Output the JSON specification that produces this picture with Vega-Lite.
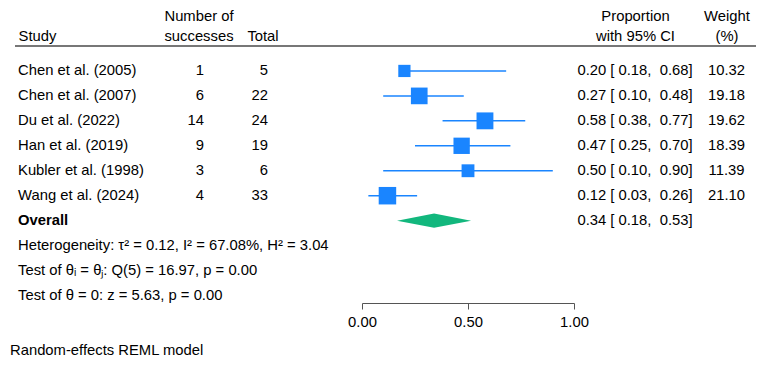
{
  "$schema": "https://vega.github.io/schema/vega-lite/v6.json",
  "padding": {"left": 10, "top": 8, "right": 9, "bottom": 8},
  "background": "white",
  "title": {"text": "Random-effects REML model", "orient": "bottom", "anchor": "start", "fontSize": 14.8, "fontWeight": "normal", "font": "Liberation Sans", "color": "#000", "offset": 14, "dx": -4},
  "datasets": {
    "rows": [
      {"label": "header", "kind": "header"},
      {"label": "Chen et al. (2005)", "kind": "study", "successes": 1, "total": 5, "es": 0.20, "lo": 0.18, "hi": 0.68, "ci": "0.20 [ 0.18,\u00a0 0.68]", "weight": 10.32},
      {"label": "Chen et al. (2007)", "kind": "study", "successes": 6, "total": 22, "es": 0.27, "lo": 0.10, "hi": 0.48, "ci": "0.27 [ 0.10,\u00a0 0.48]", "weight": 19.18},
      {"label": "Du et al. (2022)", "kind": "study", "successes": 14, "total": 24, "es": 0.58, "lo": 0.38, "hi": 0.77, "ci": "0.58 [ 0.38,\u00a0 0.77]", "weight": 19.62},
      {"label": "Han et al. (2019)", "kind": "study", "successes": 9, "total": 19, "es": 0.47, "lo": 0.25, "hi": 0.70, "ci": "0.47 [ 0.25,\u00a0 0.70]", "weight": 18.39},
      {"label": "Kubler et al. (1998)", "kind": "study", "successes": 3, "total": 6, "es": 0.50, "lo": 0.10, "hi": 0.90, "ci": "0.50 [ 0.10,\u00a0 0.90]", "weight": 11.39},
      {"label": "Wang et al. (2024)", "kind": "study", "successes": 4, "total": 33, "es": 0.12, "lo": 0.03, "hi": 0.26, "ci": "0.12 [ 0.03,\u00a0 0.26]", "weight": 21.10},
      {"label": "Overall", "kind": "overall", "es": 0.34, "lo": 0.18, "hi": 0.53, "ci": "0.34 [ 0.18,\u00a0 0.53]"},
      {"label": "Heterogeneity: τ² = 0.12, I² = 67.08%, H² = 3.04", "kind": "note"},
      {"label": "Test of θᵢ = θⱼ: Q(5) = 16.97, p = 0.00", "kind": "note"},
      {"label": "Test of θ = 0: z = 5.63, p = 0.00", "kind": "note"}
    ]
  },
  "data": {"name": "rows"},
  "spacing": 0,
  "bounds": "flush",
  "hconcat": [
    {
      "width": 155,
      "height": 260,
      "layer": [
        {
          "transform": [{"filter": "datum.kind == 'header'"}],
          "mark": {"type": "rule", "color": "#777777", "strokeWidth": 2},
          "encoding": {
            "y": {"field": "label", "type": "nominal", "sort": null, "scale": {"type": "point", "domain": ["header", "Chen et al. (2005)", "Chen et al. (2007)", "Du et al. (2022)", "Han et al. (2019)", "Kubler et al. (1998)", "Wang et al. (2024)", "Overall", "Heterogeneity: τ² = 0.12, I² = 67.08%, H² = 3.04", "Test of θᵢ = θⱼ: Q(5) = 16.97, p = 0.00", "Test of θ = 0: z = 5.63, p = 0.00"], "padding": 0.2104, "align": 0.2857}, "axis": null}
          }
        },
        {
          "transform": [{"filter": "datum.kind == 'study' || datum.kind == 'note'"}],
          "mark": {"type": "text", "align": "left", "baseline": "middle"},
          "encoding": {
            "x": {"datum": "Study", "type": "nominal", "scale": {"type": "point", "domain": ["Study"], "padding": 0.5, "align": 0.0194}, "axis": {"orient": "top", "title": null, "domain": false, "ticks": true, "tickSize": 0, "labelPadding": 19.5, "labelBaseline": "bottom", "labelLineHeight": 20, "labelAlign": "left", "labelExpr": "['\u00a0', datum.value]"}},
            "y": {"field": "label", "type": "nominal", "sort": null, "scale": {"type": "point", "domain": ["header", "Chen et al. (2005)", "Chen et al. (2007)", "Du et al. (2022)", "Han et al. (2019)", "Kubler et al. (1998)", "Wang et al. (2024)", "Overall", "Heterogeneity: τ² = 0.12, I² = 67.08%, H² = 3.04", "Test of θᵢ = θⱼ: Q(5) = 16.97, p = 0.00", "Test of θ = 0: z = 5.63, p = 0.00"], "padding": 0.2104, "align": 0.2857}, "axis": null},
            "text": {"field": "label", "type": "nominal"}
          }
        },
        {
          "transform": [{"filter": "datum.kind == 'overall'"}],
          "mark": {"type": "text", "align": "left", "baseline": "middle", "fontWeight": "bold"},
          "encoding": {
            "x": {"datum": "Study", "type": "nominal", "scale": {"type": "point", "domain": ["Study"], "padding": 0.5, "align": 0.0194}, "axis": {"orient": "top", "title": null, "domain": false, "ticks": true, "tickSize": 0, "labelPadding": 19.5, "labelBaseline": "bottom", "labelLineHeight": 20, "labelAlign": "left", "labelExpr": "['\u00a0', datum.value]"}},
            "y": {"field": "label", "type": "nominal", "sort": null, "scale": {"type": "point", "domain": ["header", "Chen et al. (2005)", "Chen et al. (2007)", "Du et al. (2022)", "Han et al. (2019)", "Kubler et al. (1998)", "Wang et al. (2024)", "Overall", "Heterogeneity: τ² = 0.12, I² = 67.08%, H² = 3.04", "Test of θᵢ = θⱼ: Q(5) = 16.97, p = 0.00", "Test of θ = 0: z = 5.63, p = 0.00"], "padding": 0.2104, "align": 0.2857}, "axis": null},
            "text": {"field": "label", "type": "nominal"}
          }
        }
      ]
    },
    {
      "width": 192,
      "height": 260,
      "layer": [
        {
          "transform": [{"filter": "datum.kind == 'header'"}],
          "mark": {"type": "rule", "color": "#777777", "strokeWidth": 2},
          "encoding": {
            "y": {"field": "label", "type": "nominal", "sort": null, "scale": {"type": "point", "domain": ["header", "Chen et al. (2005)", "Chen et al. (2007)", "Du et al. (2022)", "Han et al. (2019)", "Kubler et al. (1998)", "Wang et al. (2024)", "Overall", "Heterogeneity: τ² = 0.12, I² = 67.08%, H² = 3.04", "Test of θᵢ = θⱼ: Q(5) = 16.97, p = 0.00", "Test of θ = 0: z = 5.63, p = 0.00"], "padding": 0.2104, "align": 0.2857}, "axis": null}
          }
        },
        {
          "transform": [{"filter": "datum.kind == 'study'"}],
          "mark": {"type": "text", "align": "right", "baseline": "middle", "dx": 5.5},
          "encoding": {
            "x": {"datum": "successes", "type": "nominal", "scale": {"type": "point", "domain": ["successes", "Total"], "padding": 1, "align": 0.2227}, "axis": {"orient": "top", "title": null, "domain": false, "ticks": true, "tickSize": 0, "labelPadding": 19.5, "labelBaseline": "bottom", "labelLineHeight": 20, "labelExpr": "datum.value == 'successes' ? ['Number of', 'successes'] : ['\u00a0', datum.value]"}},
            "y": {"field": "label", "type": "nominal", "sort": null, "scale": {"type": "point", "domain": ["header", "Chen et al. (2005)", "Chen et al. (2007)", "Du et al. (2022)", "Han et al. (2019)", "Kubler et al. (1998)", "Wang et al. (2024)", "Overall", "Heterogeneity: τ² = 0.12, I² = 67.08%, H² = 3.04", "Test of θᵢ = θⱼ: Q(5) = 16.97, p = 0.00", "Test of θ = 0: z = 5.63, p = 0.00"], "padding": 0.2104, "align": 0.2857}, "axis": null},
            "text": {"field": "successes", "type": "quantitative", "format": "d"}
          }
        },
        {
          "transform": [{"filter": "datum.kind == 'study'"}],
          "mark": {"type": "text", "align": "right", "baseline": "middle", "dx": 5.5},
          "encoding": {
            "x": {"datum": "Total", "type": "nominal", "scale": {"type": "point", "domain": ["successes", "Total"], "padding": 1, "align": 0.2227}, "axis": {"orient": "top", "title": null, "domain": false, "ticks": true, "tickSize": 0, "labelPadding": 19.5, "labelBaseline": "bottom", "labelLineHeight": 20, "labelExpr": "datum.value == 'successes' ? ['Number of', 'successes'] : ['\u00a0', datum.value]"}},
            "y": {"field": "label", "type": "nominal", "sort": null, "scale": {"type": "point", "domain": ["header", "Chen et al. (2005)", "Chen et al. (2007)", "Du et al. (2022)", "Han et al. (2019)", "Kubler et al. (1998)", "Wang et al. (2024)", "Overall", "Heterogeneity: τ² = 0.12, I² = 67.08%, H² = 3.04", "Test of θᵢ = θⱼ: Q(5) = 16.97, p = 0.00", "Test of θ = 0: z = 5.63, p = 0.00"], "padding": 0.2104, "align": 0.2857}, "axis": null},
            "text": {"field": "total", "type": "quantitative", "format": "d"}
          }
        }
      ]
    },
    {
      "width": 212,
      "height": 260,
      "layer": [
        {
          "transform": [{"filter": "datum.kind == 'header'"}],
          "mark": {"type": "rule", "color": "#777777", "strokeWidth": 2},
          "encoding": {
            "y": {"field": "label", "type": "nominal", "sort": null, "scale": {"type": "point", "domain": ["header", "Chen et al. (2005)", "Chen et al. (2007)", "Du et al. (2022)", "Han et al. (2019)", "Kubler et al. (1998)", "Wang et al. (2024)", "Overall", "Heterogeneity: τ² = 0.12, I² = 67.08%, H² = 3.04", "Test of θᵢ = θⱼ: Q(5) = 16.97, p = 0.00", "Test of θ = 0: z = 5.63, p = 0.00"], "padding": 0.2104, "align": 0.2857}, "axis": null}
          }
        },
        {
          "transform": [{"filter": "datum.kind == 'study'"}],
          "mark": {"type": "rule", "color": "#1a85ff", "strokeWidth": 1.5},
          "encoding": {
            "x": {"field": "lo", "type": "quantitative", "scale": {"domain": [0, 1], "nice": false, "zero": false}, "axis": {"orient": "bottom", "title": null, "values": [0, 0.5, 1], "format": ".2f", "labelFlush": false, "tickSize": 6, "labelPadding": 5, "domainColor": "#555", "domainWidth": 1, "tickColor": "#555", "tickWidth": 1}},
            "x2": {"field": "hi"},
            "y": {"field": "label", "type": "nominal", "sort": null, "scale": {"type": "point", "domain": ["header", "Chen et al. (2005)", "Chen et al. (2007)", "Du et al. (2022)", "Han et al. (2019)", "Kubler et al. (1998)", "Wang et al. (2024)", "Overall", "Heterogeneity: τ² = 0.12, I² = 67.08%, H² = 3.04", "Test of θᵢ = θⱼ: Q(5) = 16.97, p = 0.00", "Test of θ = 0: z = 5.63, p = 0.00"], "padding": 0.2104, "align": 0.2857}, "axis": null}
          }
        },
        {
          "transform": [{"filter": "datum.kind == 'study'"}],
          "mark": {"type": "point", "shape": "square", "filled": true, "opacity": 1, "color": "#1a85ff"},
          "encoding": {
            "x": {"field": "es", "type": "quantitative", "scale": {"domain": [0, 1], "nice": false, "zero": false}, "axis": {"orient": "bottom", "title": null, "values": [0, 0.5, 1], "format": ".2f", "labelFlush": false, "tickSize": 6, "labelPadding": 5, "domainColor": "#555", "domainWidth": 1, "tickColor": "#555", "tickWidth": 1}},
            "y": {"field": "label", "type": "nominal", "sort": null, "scale": {"type": "point", "domain": ["header", "Chen et al. (2005)", "Chen et al. (2007)", "Du et al. (2022)", "Han et al. (2019)", "Kubler et al. (1998)", "Wang et al. (2024)", "Overall", "Heterogeneity: τ² = 0.12, I² = 67.08%, H² = 3.04", "Test of θᵢ = θⱼ: Q(5) = 16.97, p = 0.00", "Test of θ = 0: z = 5.63, p = 0.00"], "padding": 0.2104, "align": 0.2857}, "axis": null},
            "size": {"field": "weight", "type": "quantitative", "scale": {"domain": [0, 20], "range": [0, 290]}, "legend": null}
          }
        },
        {
          "transform": [{"filter": "datum.kind == 'overall'"}],
          "mark": {"type": "point", "shape": "M-1,0L0,-0.19L1,0L0,0.19Z", "size": 5476, "filled": true, "opacity": 1, "color": "#12b77d", "strokeWidth": 0},
          "encoding": {
            "x": {"field": "es", "type": "quantitative", "scale": {"domain": [0, 1], "nice": false, "zero": false}, "axis": {"orient": "bottom", "title": null, "values": [0, 0.5, 1], "format": ".2f", "labelFlush": false, "tickSize": 6, "labelPadding": 5, "domainColor": "#555", "domainWidth": 1, "tickColor": "#555", "tickWidth": 1}},
            "y": {"field": "label", "type": "nominal", "sort": null, "scale": {"type": "point", "domain": ["header", "Chen et al. (2005)", "Chen et al. (2007)", "Du et al. (2022)", "Han et al. (2019)", "Kubler et al. (1998)", "Wang et al. (2024)", "Overall", "Heterogeneity: τ² = 0.12, I² = 67.08%, H² = 3.04", "Test of θᵢ = θⱼ: Q(5) = 16.97, p = 0.00", "Test of θ = 0: z = 5.63, p = 0.00"], "padding": 0.2104, "align": 0.2857}, "axis": null}
          }
        }
      ]
    },
    {
      "width": 182,
      "height": 260,
      "layer": [
        {
          "transform": [{"filter": "datum.kind == 'header'"}],
          "mark": {"type": "rule", "color": "#777777", "strokeWidth": 2},
          "encoding": {
            "y": {"field": "label", "type": "nominal", "sort": null, "scale": {"type": "point", "domain": ["header", "Chen et al. (2005)", "Chen et al. (2007)", "Du et al. (2022)", "Han et al. (2019)", "Kubler et al. (1998)", "Wang et al. (2024)", "Overall", "Heterogeneity: τ² = 0.12, I² = 67.08%, H² = 3.04", "Test of θᵢ = θⱼ: Q(5) = 16.97, p = 0.00", "Test of θ = 0: z = 5.63, p = 0.00"], "padding": 0.2104, "align": 0.2857}, "axis": null}
          }
        },
        {
          "transform": [{"filter": "datum.kind == 'study' || datum.kind == 'overall'"}],
          "mark": {"type": "text", "align": "center", "baseline": "middle"},
          "encoding": {
            "x": {"datum": "ci", "type": "nominal", "scale": {"type": "point", "domain": ["ci", "weight"], "padding": 0.4945, "align": 0.674}, "axis": {"orient": "top", "title": null, "domain": false, "ticks": true, "tickSize": 0, "labelPadding": 19.5, "labelBaseline": "bottom", "labelLineHeight": 20, "labelExpr": "datum.value == 'ci' ? ['Proportion', 'with 95% CI'] : ['Weight', '(%)']"}},
            "y": {"field": "label", "type": "nominal", "sort": null, "scale": {"type": "point", "domain": ["header", "Chen et al. (2005)", "Chen et al. (2007)", "Du et al. (2022)", "Han et al. (2019)", "Kubler et al. (1998)", "Wang et al. (2024)", "Overall", "Heterogeneity: τ² = 0.12, I² = 67.08%, H² = 3.04", "Test of θᵢ = θⱼ: Q(5) = 16.97, p = 0.00", "Test of θ = 0: z = 5.63, p = 0.00"], "padding": 0.2104, "align": 0.2857}, "axis": null},
            "text": {"field": "ci", "type": "nominal"}
          }
        },
        {
          "transform": [{"filter": "datum.kind == 'study'"}],
          "mark": {"type": "text", "align": "center", "baseline": "middle"},
          "encoding": {
            "x": {"datum": "weight", "type": "nominal", "scale": {"type": "point", "domain": ["ci", "weight"], "padding": 0.4945, "align": 0.674}, "axis": {"orient": "top", "title": null, "domain": false, "ticks": true, "tickSize": 0, "labelPadding": 19.5, "labelBaseline": "bottom", "labelLineHeight": 20, "labelExpr": "datum.value == 'ci' ? ['Proportion', 'with 95% CI'] : ['Weight', '(%)']"}},
            "y": {"field": "label", "type": "nominal", "sort": null, "scale": {"type": "point", "domain": ["header", "Chen et al. (2005)", "Chen et al. (2007)", "Du et al. (2022)", "Han et al. (2019)", "Kubler et al. (1998)", "Wang et al. (2024)", "Overall", "Heterogeneity: τ² = 0.12, I² = 67.08%, H² = 3.04", "Test of θᵢ = θⱼ: Q(5) = 16.97, p = 0.00", "Test of θ = 0: z = 5.63, p = 0.00"], "padding": 0.2104, "align": 0.2857}, "axis": null},
            "text": {"field": "weight", "type": "quantitative", "format": ".2f"}
          }
        }
      ]
    }
  ],
  "config": {
    "view": {"stroke": null},
    "font": "Liberation Sans",
    "text": {"font": "Liberation Sans", "fontSize": 14.8, "color": "#000"},
    "axis": {"labelFont": "Liberation Sans", "labelFontSize": 14.8, "labelColor": "#000", "grid": false, "labelAngle": 0, "labelOverlap": false}
  }
}
